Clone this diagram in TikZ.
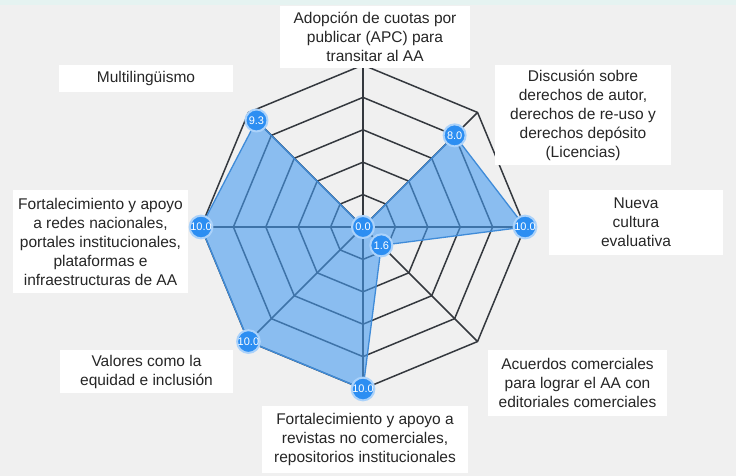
\documentclass[tikz,border=0pt]{standalone}
\usepackage{fontspec}
\setmainfont{Liberation Sans}
\definecolor{fondo}{RGB}{240,240,240}
\definecolor{franja}{RGB}{229,243,241}
\definecolor{rejilla}{RGB}{52,56,62}
\definecolor{azul}{RGB}{44,142,242}
\definecolor{relleno}{RGB}{70,155,240}
\tikzset{
  malla/.style={draw=rejilla, line width=1.5pt, line join=round},
  area/.style={fill=relleno, fill opacity=.6, draw=relleno!90!black, line width=1.3pt, line join=round},
  punto/.style={circle, fill=azul, draw=azul!40, line width=2pt, minimum size=22pt,
    inner sep=0pt, text=white, font=\fontsize{11}{12}\selectfont},
  etiqueta/.style={fill=white, align=center, inner sep=0pt, text=black!85,
    font=\fontsize{15.5}{19}\selectfont},
}
\begin{document}
\begin{tikzpicture}[x=1pt,y=-1pt]
  \useasboundingbox (0,0) rectangle (736,476);
  \fill[fondo] (0,0) rectangle (736,476);
  \fill[franja] (0,0) rectangle (736,5);
  \begin{scope}[shift={(363,227)}]
    \foreach\rad in {32.4,64.8,97.2,129.6,162}{
      \draw[malla] (-90:\rad) \foreach\k in {1,...,7}{ -- (-90+45*\k:\rad)} -- cycle;
    }
    \foreach\k in {0,...,7}
      \draw[malla] (0,0) -- (-90+45*\k:162);
    \foreach\v [count=\k from 0] in {0.0,8.0,10.0,1.6,10.0,10.0,10.0,9.3}
      \coordinate (v\k) at (-90+45*\k:16.2*\v);
    \filldraw[area] (v0) -- (v1) -- (v2) -- (v3) -- (v4) -- (v5) -- (v6) -- (v7) -- cycle;
    \foreach\v [count=\k from 0] in {0.0,8.0,10.0,1.6,10.0,10.0,10.0,9.3}
      \node[punto] (p\k) at (v\k) {\v};
  \end{scope}
  \node[etiqueta, minimum width=190pt, minimum height=62pt] (apc) at (375,37)
    {Adopción de cuotas por\\publicar (APC) para\\transitar al AA};
  \node[etiqueta, minimum width=176pt, minimum height=100pt] (licencias) at (583,115)
    {Discusión sobre\\derechos de autor,\\derechos de re-uso y\\derechos depósito\\(Licencias)};
  \node[etiqueta, minimum width=174pt, minimum height=65pt] (cultura) at (636,222.5)
    {Nueva\\cultura\\evaluativa};
  \node[etiqueta, minimum width=179pt, minimum height=66pt] (acuerdos) at (577.5,383)
    {Acuerdos comerciales\\para lograr el AA con\\editoriales comerciales};
  \node[etiqueta, minimum width=206pt, minimum height=67pt] (revistas) at (365,439.5)
    {Fortalecimiento y apoyo a\\revistas no comerciales,\\repositorios institucionales};
  \node[etiqueta, minimum width=173pt, minimum height=43pt] (valores) at (146.5,371.5)
    {Valores como la\\equidad e inclusión};
  \node[etiqueta, minimum width=175pt, minimum height=103pt] (redes) at (100.5,241.5)
    {Fortalecimiento y apoyo\\a redes nacionales,\\portales institucionales,\\plataformas e\\infraestructuras de AA};
  \node[etiqueta, minimum width=174pt, minimum height=27pt] (multi) at (146,78.5)
    {Multilingüismo};
\end{tikzpicture}
\end{document}
